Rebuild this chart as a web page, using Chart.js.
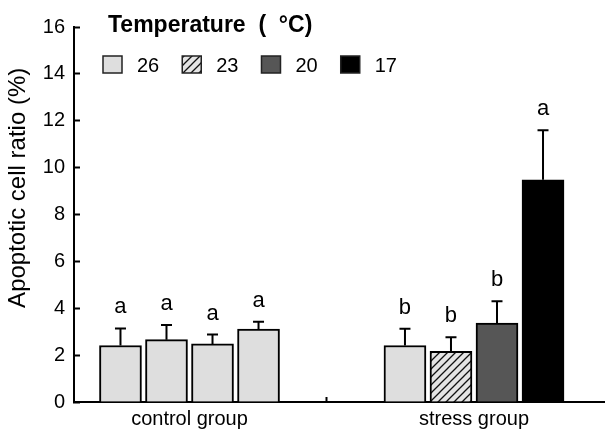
<!DOCTYPE html>
<html>
<head>
<meta charset="utf-8">
<script src="https://cdn.jsdelivr.net/npm/chart.js@4/dist/chart.umd.min.js"></script>
<style>
  html, body { margin: 0; padding: 0; background: #fff; }
</style>
</head>
<body>
<canvas id="apoptosisChart" width="606" height="431"></canvas>
<script>
/* global Chart */

// groups on the x axis and temperature series
var groups = ["control group", "stress group"];
var temps = ["26", "23", "20", "17"];

// mean apoptotic cell ratio (%) per temperature, [control, stress]
var ratio26 = [2.41, 2.41];
var ratio23 = [2.66, 2.16];
var ratio20 = [2.48, 3.37];
var ratio17 = [3.11, 9.48];

// upper error (SD)
var err26 = [0.73, 0.72];
var err23 = [0.63, 0.60];
var err20 = [0.40, 0.93];
var err17 = [0.31, 2.11];

// significance letters
var sig26 = ["a", "b"];
var sig23 = ["a", "b"];
var sig20 = ["a", "b"];
var sig17 = ["a", "a"];

var yTicks = [0, 2, 4, 6, 8, 10, 12, 14, 16];

var FONT = "'Liberation Sans', Arial, sans-serif";
Chart.defaults.font.family = FONT;
Chart.defaults.color = "#000";

var ctx = document.getElementById("apoptosisChart").getContext("2d");

function makeHatch() {
  var c = document.createElement("canvas");
  c.width = 8;
  c.height = 8;
  var g = c.getContext("2d");
  g.fillStyle = "#e4e4e4";
  g.fillRect(0, 0, 8, 8);
  g.strokeStyle = "#111";
  g.lineWidth = 1.3;
  g.beginPath();
  g.moveTo(-1, 9); g.lineTo(9, -1);
  g.moveTo(-1, 1); g.lineTo(1, -1);
  g.moveTo(7, 9); g.lineTo(9, 7);
  g.stroke();
  return ctx.createPattern(c, "repeat");
}

var lightGray = "#dedede";
var hatch = makeHatch();
var fills = [lightGray, hatch, "#565656", "#000000"];

function toPoints(arr) {
  return arr.map(function (v, j) {
    return { x: j + 1, y: v };
  });
}

var series = [ratio26, ratio23, ratio20, ratio17];
var errs = [err26, err23, err20, err17];
var sigs = [sig26, sig23, sig20, sig17];

var datasets = series.map(function (s, i) {
  return {
    label: temps[i],
    data: toPoints(s),
    errors: errs[i],
    letters: sigs[i],
    // control group bars are all plain light grey
    backgroundColor: [lightGray, fills[i]],
    borderColor: "#000",
    borderWidth: 2,
    borderSkipped: "bottom",
  };
});

var errorBarPlugin = {
  id: "errorBars",
  afterDatasetsDraw: function (chart) {
    var c = chart.ctx;
    var yScale = chart.scales.y;
    c.save();
    chart.data.datasets.forEach(function (ds, i) {
      var meta = chart.getDatasetMeta(i);
      meta.data.forEach(function (bar, j) {
        var top = yScale.getPixelForValue(ds.data[j].y + ds.errors[j]);
        c.strokeStyle = "#000";
        c.lineWidth = 2;
        c.beginPath();
        c.moveTo(bar.x, bar.y);
        c.lineTo(bar.x, top);
        c.moveTo(bar.x - 5.5, top);
        c.lineTo(bar.x + 5.5, top);
        c.stroke();
        c.fillStyle = "#000";
        c.font = "22px " + FONT;
        c.textAlign = "center";
        c.textBaseline = "alphabetic";
        c.fillText(ds.letters[j], bar.x, top - 15);
      });
    });
    c.restore();
  },
};

// legend drawn in a row inside the plot, top left
var legendPlugin = {
  id: "tempLegend",
  afterDraw: function (chart) {
    var c = chart.ctx;
    var area = chart.chartArea;
    c.save();
    c.fillStyle = "#000";
    c.textAlign = "left";
    c.textBaseline = "alphabetic";
    c.font = "bold 23px " + FONT;
    c.fillText("Temperature  (  \u00b0C)", area.left + 34, 32);
    c.font = "20px " + FONT;
    var x = area.left + 29;
    chart.data.datasets.forEach(function (ds, i) {
      c.fillStyle = fills[i];
      c.fillRect(x, 56, 19, 17);
      c.strokeStyle = "#222";
      c.lineWidth = 1.5;
      c.strokeRect(x, 56, 19, 17);
      c.fillStyle = "#000";
      c.fillText(ds.label, x + 34, 72);
      x += 34 + c.measureText(ds.label).width + 23;
    });
    c.restore();
  },
};

var chart = new Chart(ctx, {
  type: "bar",
  data: { datasets: datasets },
  plugins: [errorBarPlugin, legendPlugin],
  options: {
    responsive: false,
    animation: false,
    devicePixelRatio: 1,
    barThickness: "flex",
    categoryPercentage: 0.647,
    barPercentage: 0.913,
    layout: { padding: { top: 14, right: 2, left: 0, bottom: 0 } },
    plugins: {
      tooltip: { enabled: false },
      legend: { display: false },
    },
    scales: {
      x: {
        type: "linear",
        offset: false,
        min: 0.594,
        max: 2.457,
        afterBuildTicks: function (scale) {
          scale.ticks = [{ value: 1 }, { value: 1.482 }, { value: 2 }];
        },
        afterFit: function (scale) {
          scale.height = 29;
        },
        ticks: {
          autoSkip: false,
          maxRotation: 0,
          padding: 10,
          color: "#000",
          font: { size: 20 },
          callback: function (value) {
            if (value === 1) return groups[0];
            if (value === 2) return groups[1];
            return "";
          },
        },
        grid: {
          offset: false,
          drawOnChartArea: false,
          tickLength: -5,
          tickWidth: 2,
          tickColor: function (c) {
            return c.index === 1 ? "#000" : "rgba(0,0,0,0)";
          },
        },
        border: { color: "#000", width: 2 },
      },
      y: {
        min: 0,
        max: 16,
        afterBuildTicks: function (scale) {
          scale.ticks = yTicks.map(function (v) {
            return { value: v };
          });
        },
        afterFit: function (scale) {
          scale.width = 74;
        },
        ticks: {
          padding: 15,
          color: "#000",
          font: { size: 20 },
        },
        grid: {
          drawOnChartArea: false,
          tickLength: -6,
          tickWidth: 2,
          tickColor: "#000",
        },
        border: { color: "#000", width: 2 },
        title: {
          display: true,
          text: "\u00a0\u00a0\u00a0\u00a0\u00a0\u00a0\u00a0\u00a0Apoptotic cell ratio (%)",
          color: "#000",
          font: { size: 24 },
          padding: { top: 4, bottom: 0 },
        },
      },
    },
  },
});
</script>
</body>
</html>
